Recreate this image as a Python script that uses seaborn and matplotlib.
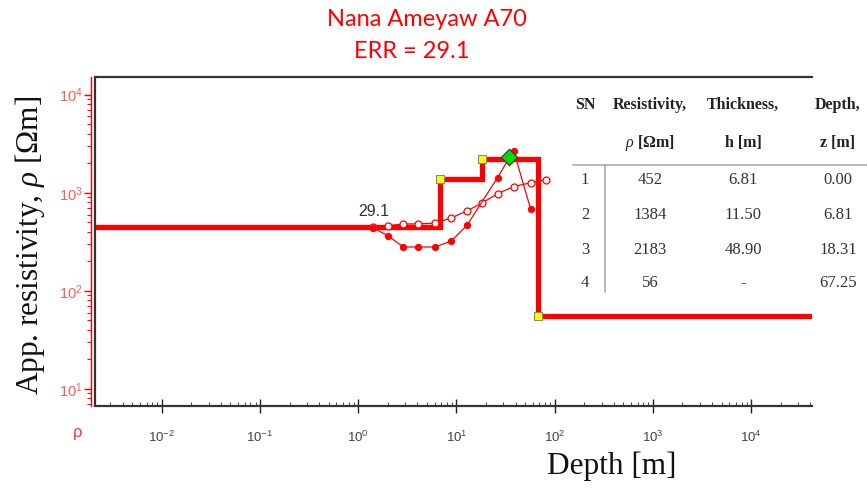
import numpy as np
import pandas as pd
import matplotlib
matplotlib.use("Agg")
import matplotlib.pyplot as plt
from matplotlib.ticker import LogLocator, NullFormatter, FixedLocator
import seaborn as sns

# Layered earth model
layer_res = [452, 1384, 2183, 56]
layer_thick = ["6.81", "11.50", "48.90", "-"]
layer_top = [0.00, 6.81, 18.31, 67.25]

# Sounding curves (AB/2 spacing vs apparent resistivity)
obs_ab2 = [1.42, 2.0, 2.88, 4.1, 6.1, 8.9, 12.9, 26.2, 38.2, 56.9]
obs_rho = [438, 365, 280, 280, 280, 323, 470, 1425, 2690, 685]
calc_ab2 = [1.42, 2.0, 2.88, 4.1, 6.1, 8.9, 12.9, 18.4, 26.2, 38.2, 56.9, 81.0]
calc_rho = [445, 462, 480, 482, 490, 555, 655, 790, 977, 1152, 1266, 1359]

best_point = (34.0, 2330.0)
err_value = 29.1
title = "Nana Ameyaw A70"
x_decades = [1e-2, 1e-1, 1e0, 1e1, 1e2, 1e3, 1e4]
y_decades = [1e1, 1e2, 1e3, 1e4]

XMIN, XMAX = 10 ** -2.68, 10 ** 4.62
YMIN, YMAX = 10 ** 0.826, 10 ** 4.18

sns.set_theme(style="white")
plt.rcParams["font.family"] = ["Liberation Sans", "DejaVu Sans"]
plt.rcParams["mathtext.fontset"] = "custom"
plt.rcParams["mathtext.it"] = "Liberation Serif:italic"
plt.rcParams["mathtext.rm"] = "Liberation Serif"
plt.rcParams["mathtext.bf"] = "Liberation Serif:bold"

fig = plt.figure(figsize=(8.67, 4.9), dpi=100)
ax = fig.add_axes([95 / 867, 1 - 406 / 490, (812 - 95) / 867, (406 - 77) / 490])

# step profile of the model
bounds = layer_top[1:]
mx = [XMIN] + [b for b in bounds for _ in range(2)] + [XMAX]
my = [r for r in layer_res for _ in range(2)]
model = pd.DataFrame({"x": mx, "y": my})
sns.lineplot(data=model, x="x", y="y", sort=False, estimator=None, ax=ax,
             color="#ff0000", lw=3.8, solid_joinstyle="miter", zorder=3)

obs = pd.DataFrame({"x": obs_ab2, "y": obs_rho})
calc = pd.DataFrame({"x": calc_ab2, "y": calc_rho})
sns.lineplot(data=calc, x="x", y="y", sort=False, estimator=None, ax=ax,
             color="#ff0000", lw=0.9, marker="o", markersize=5,
             markerfacecolor="white", markeredgecolor="#ff0000",
             markeredgewidth=0.9, zorder=4)
sns.lineplot(data=obs, x="x", y="y", sort=False, estimator=None, ax=ax,
             color="#ff0000", lw=0.9, marker="o", markersize=4.5,
             markerfacecolor="#ff0000", markeredgecolor="#ff0000", zorder=5)

# layer corners
corner = pd.DataFrame({"x": layer_top[1:], "y": layer_res[1:]})
sns.scatterplot(data=corner, x="x", y="y", ax=ax, marker="s", s=30,
                color="#ffff00", edgecolor="#888888", linewidth=0.8, zorder=6)
sns.scatterplot(x=[best_point[0]], y=[best_point[1]], ax=ax, marker="D", s=70,
                color="#00dd00", edgecolor="#333333", linewidth=0.8, zorder=7)

ax.text(1.45, 540, f"{err_value}", fontsize=11.5, color="#333333",
        ha="center", va="bottom", zorder=8)

ax.set_xscale("log")
ax.set_yscale("log")
ax.set_xlim(XMIN, XMAX)
ax.set_ylim(YMIN, YMAX)
ax.set_xlabel("")
ax.set_ylabel("")

# frame
for side in ["top", "bottom"]:
    ax.spines[side].set_color("#333333")
    ax.spines[side].set_linewidth(1.6)
ax.spines["right"].set_visible(False)
ax.spines["left"].set_color("#ff0000")
ax.spines["left"].set_linewidth(1.0)
ax.spines["left"].set_position(("outward", 3))
ax.plot([0, 0], [0, 1], transform=ax.transAxes, color="#333333", lw=1.6,
        clip_on=False, zorder=10)

ax.xaxis.set_major_locator(FixedLocator(x_decades))
ax.xaxis.set_minor_locator(LogLocator(base=10, subs=np.arange(2, 10), numticks=20))
ax.xaxis.set_minor_formatter(NullFormatter())
ax.tick_params(axis="x", which="major", direction="inout", length=10, width=1.0,
               color="#222222", labelsize=9.5, labelcolor="#444444", pad=12, bottom=True)
ax.tick_params(axis="x", which="minor", direction="in", length=3, width=0.7,
               color="#444444", bottom=True)

ax.yaxis.set_major_locator(FixedLocator(y_decades))
ax.yaxis.set_minor_locator(LogLocator(base=10, subs=np.arange(2, 10), numticks=20))
ax.yaxis.set_minor_formatter(NullFormatter())
ax.tick_params(axis="y", which="major", direction="out", length=5, width=1.0,
               color="#ff0000", labelsize=10.5, labelcolor="#ff5a5a", pad=1, left=True)
ax.tick_params(axis="y", which="minor", direction="out", length=3, width=0.7,
               color="#ff0000", left=True)

# titles and axis labels
fig.text(427 / 867, 1 - 19 / 490, title, color="#ff0000", fontsize=17,
         family="Lato", ha="center", va="center")
fig.text(412 / 867, 1 - 51 / 490, f"ERR = {err_value}", color="#ff0000",
         fontsize=17, family="Lato", ha="center", va="center")
fig.text(30 / 867, 1 - 245 / 490, r"App. resistivity, $\rho$ [Ωm]",
         family="Liberation Serif", fontsize=22.5, rotation=90,
         ha="center", va="center", color="#111111")
fig.text(612 / 867, 1 - 466 / 490, "Depth [m]", family="Liberation Serif",
         fontsize=22.5, ha="center", va="center", color="#111111")
fig.text(78 / 867, 1 - 432 / 490, "ρ", color="#ff3030", fontsize=12,
         ha="center", va="center")

# layer table
col_x = [585, 650, 743, 838]
head1 = ["SN", "Resistivity,", "Thickness,", "Depth,"]
head2 = ["", r"$\rho$ [Ωm]", "h [m]", "z [m]"]
for cx, h1, h2 in zip(col_x, head1, head2):
    fig.text(cx / 867, 1 - 105 / 490, h1, family="Liberation Serif",
             fontsize=11.5, weight="bold", ha="center", va="center", color="#222222")
    fig.text(cx / 867, 1 - 143 / 490, h2, family="Liberation Serif",
             fontsize=11.5, weight="bold", ha="center", va="center", color="#222222")
row_y = [180, 215, 250, 283]
for i, ry in enumerate(row_y):
    vals = [str(i + 1), str(layer_res[i]), layer_thick[i], f"{layer_top[i]:.2f}"]
    for cx, v in zip(col_x, vals):
        fig.text(cx / 867, 1 - ry / 490, v, family="Liberation Serif",
                 fontsize=12, ha="center", va="center", color="#333333")
fig.add_artist(plt.Line2D([573 / 867, 1.0], [1 - 165 / 490] * 2,
                          color="#aaaaaa", lw=1.2))
fig.add_artist(plt.Line2D([605 / 867] * 2, [1 - 165 / 490, 1 - 292 / 490],
                          color="#aaaaaa", lw=1.2))

fig.savefig("out.png", dpi=100)
